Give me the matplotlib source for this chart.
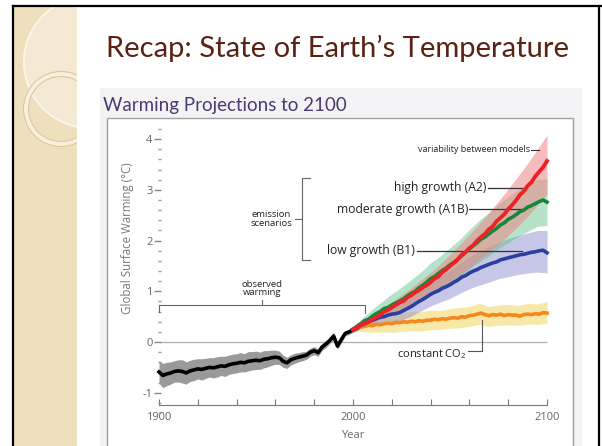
import numpy as np
import matplotlib
matplotlib.use('Agg')
import matplotlib.pyplot as plt
from matplotlib.patches import Rectangle, Circle
from matplotlib.ticker import MultipleLocator

plt.rcParams['font.family'] = ['Open Sans', 'DejaVu Sans']
plt.rcParams['mathtext.default'] = 'regular'

# observed warming (every 2 years)
obs_years = np.arange(1900, 2003, 2)
obs_temp = [-0.59, -0.66, -0.63, -0.61, -0.58, -0.57, -0.58, -0.61, -0.57, -0.55,
            -0.53, -0.54, -0.52, -0.50, -0.51, -0.49, -0.47, -0.48, -0.45, -0.43,
            -0.42, -0.40, -0.41, -0.38, -0.37, -0.36, -0.37, -0.34, -0.33, -0.31,
            -0.30, -0.31, -0.38, -0.41, -0.35, -0.32, -0.30, -0.28, -0.26, -0.20,
            -0.17, -0.21, -0.10, -0.04, 0.03, 0.12, -0.08, 0.05, 0.17, 0.20,
            0.24, 0.27]
obs_err = [.22, .24, .23, .22, .21, .22, .23, .22, .21, .21,
           .20, .21, .20, .19, .20, .20, .19, .20, .19, .19,
           .19, .19, .18, .19, .18, .18, .17, .17, .16, .15,
           .14, .13, .12, .11, .10, .10, .09, .09, .08, .08,
           .08, .07, .07, .07, .06, .07, .06, .06, .05, .05,
           .05, .05]

# scenario means (every 2 years)
proj_years = np.arange(2000, 2101, 2)
a2 = [.25, .28, .34, .37, .40, .45, .49, .53, .60, .63,
      .68, .73, .78, .81, .88, .92, .98, 1.02, 1.08, 1.12,
      1.18, 1.25, 1.29, 1.38, 1.43, 1.50, 1.56, 1.63, 1.72, 1.77,
      1.85, 1.91, 2.00, 2.07, 2.13, 2.22, 2.28, 2.38, 2.45, 2.52,
      2.62, 2.70, 2.79, 2.90, 2.97, 3.08, 3.15, 3.27, 3.36, 3.45, 3.57]
a1b = [.25, .31, .36, .42, .45, .51, .56, .60, .66, .68,
       .73, .77, .81, .85, .91, .96, 1.00, 1.07, 1.12, 1.18,
       1.25, 1.29, 1.35, 1.41, 1.46, 1.52, 1.57, 1.63, 1.70, 1.77,
       1.84, 1.90, 1.96, 2.03, 2.07, 2.13, 2.19, 2.24, 2.31, 2.35,
       2.42, 2.46, 2.51, 2.57, 2.60, 2.66, 2.69, 2.73, 2.77, 2.80, 2.76]
b1 = [.25, .28, .33, .36, .40, .43, .46, .49, .50, .53,
      .55, .56, .58, .62, .66, .70, .75, .80, .84, .89,
      .94, .98, 1.01, 1.06, 1.09, 1.13, 1.18, 1.22, 1.28, 1.31,
      1.36, 1.40, 1.43, 1.47, 1.50, 1.53, 1.56, 1.58, 1.62, 1.64,
      1.66, 1.68, 1.70, 1.72, 1.73, 1.75, 1.77, 1.78, 1.80, 1.81, 1.76]
const_co2 = [.25, .28, .30, .31, .33, .32, .35, .34, .36, .37,
             .36, .39, .38, .40, .39, .41, .40, .42, .41, .43,
             .43, .45, .44, .46, .45, .47, .48, .47, .50, .49,
             .52, .53, .55, .57, .54, .52, .54, .53, .55, .52,
             .54, .53, .53, .51, .54, .55, .54, .56, .55, .58, .57]

# model spread (every 5 years)
band_years = np.arange(2000, 2101, 5)
a2_hi = [.30, .42, .53, .66, .79, .93, 1.07, 1.22, 1.37, 1.54, 1.73,
         1.92, 2.12, 2.33, 2.55, 2.78, 3.02, 3.27, 3.52, 3.80, 4.08]
a2_lo = [.20, .28, .37, .46, .56, .65, .75, .85, .95, 1.07, 1.20,
         1.33, 1.47, 1.62, 1.77, 1.93, 2.10, 2.28, 2.48, 2.70, 2.92]
a1b_hi = [.30, .48, .65, .80, .95, 1.08, 1.23, 1.38, 1.56, 1.70, 1.86,
          2.02, 2.22, 2.40, 2.55, 2.72, 2.87, 3.00, 3.12, 3.20, 3.22]
a1b_lo = [.20, .30, .40, .48, .55, .62, .72, .82, .95, 1.05, 1.16,
          1.28, 1.44, 1.58, 1.70, 1.84, 1.96, 2.08, 2.18, 2.28, 2.30]
b1_hi = [.30, .43, .54, .64, .71, .78, .90, 1.04, 1.18, 1.30, 1.41,
         1.55, 1.68, 1.79, 1.88, 1.96, 2.04, 2.10, 2.15, 2.20, 2.20]
b1_lo = [.20, .28, .33, .38, .40, .43, .51, .61, .71, .79, .86,
         .96, 1.05, 1.12, 1.18, 1.25, 1.29, 1.33, 1.36, 1.38, 1.36]
co2_hi = [.30, .42, .46, .51, .54, .58, .60, .60, .63, .62, .66,
          .68, .70, .77, .70, .73, .74, .72, .76, .75, .80]
co2_lo = [.20, .21, .19, .20, .19, .21, .22, .22, .24, .25, .27,
          .28, .31, .35, .31, .33, .34, .33, .35, .35, .37]

W, H = 602, 446
fig = plt.figure(figsize=(W / 100, H / 100), dpi=100)

# slide background drawn in pixel coordinates
bg = fig.add_axes([0, 0, 1, 1])
bg.set_xlim(0, W)
bg.set_ylim(H, 0)
bg.axis('off')

strip = Rectangle((14, 7), 63, H, facecolor='#efe0bd', edgecolor='none')
bg.add_patch(strip)
big = Circle((90, 62), 66, facecolor='#f4e9d3', edgecolor='#fbf6ea', lw=1.5)
bg.add_patch(big)
big.set_clip_path(strip)
ring = Circle((61, 109), 35, facecolor='none', edgecolor='#f8f0de', lw=4)
bg.add_patch(ring)
ring.set_clip_path(strip)
ring2 = Circle((61, 109), 37.5, facecolor='none', edgecolor='#dcc79c', lw=0.8)
bg.add_patch(ring2)
ring2.set_clip_path(strip)
ring3 = Circle((61, 109), 32.5, facecolor='none', edgecolor='#dcc79c', lw=0.8)
bg.add_patch(ring3)
ring3.set_clip_path(strip)

bg.plot([13, 13], [6, H], color='black', lw=1.6)
bg.plot([13, W], [6, 6], color='black', lw=1.6)
bg.plot([599, 599], [6, H], color='black', lw=1.6)

bg.add_patch(Rectangle((100, 88), 482, H - 88, facecolor='#f3f3f5', edgecolor='none'))
bg.add_patch(Rectangle((107, 118), 466, H - 117, facecolor='white',
                       edgecolor='#a0a0a0', lw=1))

bg.text(338, 48, 'Recap: State of Earth\u2019s Temperature', family=['Lato', 'DejaVu Sans'],
        fontsize=21, color='#5a2214', ha='center', va='center')
bg.text(103, 105, 'Warming Projections to 2100', family=['Lato', 'DejaVu Sans'],
        fontsize=13.5, color='#4b3a72', ha='left', va='center')

# chart area
ax = fig.add_axes([140 / W, 1 - 420 / H, 420 / W, 292 / H])
ax.set_facecolor('none')
ax.set_xlim(1890.2, 2106.7)
ax.set_ylim(-1.538, 4.221)

ax.hlines(0, 1900, 2100, color='#b4b4b4', lw=1, zorder=1)

ax.fill_between(obs_years, np.array(obs_temp) - np.array(obs_err),
                np.array(obs_temp) + np.array(obs_err), color='#9a9a9a', lw=0, zorder=2)
ax.fill_between(band_years, co2_lo, co2_hi, color='#f3d660', alpha=0.55, lw=0, zorder=2)
ax.fill_between(band_years, b1_lo, b1_hi, color='#8e91cf', alpha=0.5, lw=0, zorder=2)
ax.fill_between(band_years, a1b_lo, a1b_hi, color='#5cbf86', alpha=0.45, lw=0, zorder=2)
ax.fill_between(band_years, a2_lo, a2_hi, color='#ef8587', alpha=0.55, lw=0, zorder=2)

ax.plot(obs_years, obs_temp, color='black', lw=2.6, zorder=4)
ax.plot(proj_years, const_co2, color='#f5871f', lw=2.6, zorder=4)
ax.plot(proj_years, b1, color='#2c3f9e', lw=2.6, zorder=4)
ax.plot(proj_years, a1b, color='#14873c', lw=2.6, zorder=4)
ax.plot(proj_years, a2, color='#ec2227', lw=2.8, zorder=4)

for s in ['top', 'right']:
    ax.spines[s].set_visible(False)
ax.spines['bottom'].set_position(('data', -1.24))
ax.spines['bottom'].set_bounds(1900, 2100)
ax.spines['bottom'].set_color('#777777')
ax.spines['left'].set_position(('data', 1901))
ax.spines['left'].set_color('none')

ax.set_xticks(np.arange(1900, 2101, 20))
ax.set_xticklabels(['1900', '', '', '', '', '2000', '', '', '', '', '2100'])
ax.tick_params(axis='x', direction='in', length=4, color='#777777',
               labelcolor='#666666', labelsize=8, pad=5)
ax.set_yticks(np.arange(-1, 5, 1))
ax.set_yticklabels(['-1', '0', '1', '2', '3', '4'])
ax.yaxis.set_minor_locator(MultipleLocator(0.2))
ax.tick_params(axis='y', which='major', direction='out', length=5, width=1,
               color='#888888', labelcolor='#666666', labelsize=8, pad=1)
ax.tick_params(axis='y', which='minor', direction='out', length=2.5, width=1,
               color='#999999')

bg.text(353, 435, 'Year', fontsize=8, color='#666666', ha='center', va='center')
bg.text(127, 238, 'Global Surface Warming (\u00b0C)', fontsize=8.3, color='#777777',
        rotation=90, ha='center', va='center')

# annotations
lc = '#333333'
ax.text(2091.2, 3.79, 'variability between models', fontsize=6.5, color='#222222',
        ha='right', va='center')
ax.plot([2091.8, 2096], [3.79, 3.79], color=lc, lw=0.8)
ax.text(2069, 3.04, 'high growth (A2)', fontsize=8.7, color='#222222', ha='right', va='center')
ax.plot([2069.8, 2087], [3.04, 3.04], color=lc, lw=0.9)
ax.text(2059.3, 2.62, 'moderate growth (A1B)', fontsize=8.7, color='#222222',
        ha='right', va='center')
ax.plot([2060, 2087], [2.62, 2.62], color=lc, lw=0.9)
ax.text(2032, 1.8, 'low growth (B1)', fontsize=8.7, color='#222222', ha='right', va='center')
ax.plot([2033, 2087], [1.8, 1.8], color=lc, lw=0.9)
ax.text(2058.5, -0.24, 'constant CO$_2$', fontsize=8, color='#222222',
        ha='right', va='center')
ax.plot([2059.5, 2066.3, 2066.3], [-0.17, -0.17, 0.43], color='#555555', lw=0.8)

bc = '#666666'
ax.plot([1900, 1900, 2006, 2006], [0.59, 0.73, 0.73, 0.57], color=bc, lw=0.8)
ax.plot([1953, 1953], [0.73, 0.83], color=bc, lw=0.8)
ax.text(1953, 0.88, 'observed\nwarming', fontsize=6.8, color='#222222', ha='center',
        va='bottom', linespacing=0.95)

ax.plot([1977.8, 1973.7, 1973.7, 1977.8], [3.23, 3.23, 1.62, 1.62], color=bc, lw=0.8)
ax.plot([1970, 1973.7], [2.43, 2.43], color=bc, lw=0.8)
ax.text(1968.5, 2.43, 'emission\nscenarios', fontsize=6.8, color='#222222', ha='right',
        va='center', linespacing=0.95, multialignment='center')

fig.savefig('out.png', dpi=100)
